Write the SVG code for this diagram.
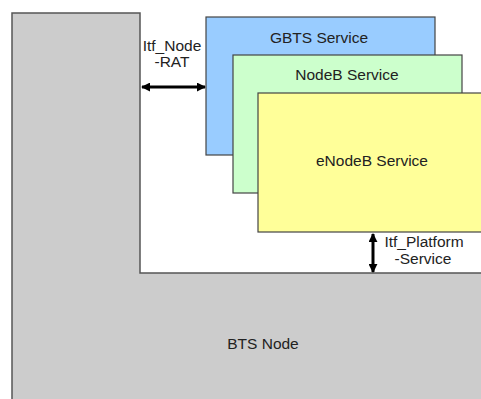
<svg xmlns="http://www.w3.org/2000/svg" width="481" height="399" viewBox="0 0 481 399">
<defs>
<style>
.t{font-family:"Liberation Sans",Arial,sans-serif;font-size:15.5px;fill:#222;text-anchor:middle}
.box{stroke:#444;stroke-width:1.2}
.conn{stroke:#000;stroke-width:3;fill:none}
</style>
<marker id="ah" viewBox="0 0 10 10" refX="9" refY="5" markerWidth="3" markerHeight="3" orient="auto-start-reverse" markerUnits="strokeWidth">
<path d="M0,0 L10,5 L0,10 z" fill="#000"/>
</marker>
</defs>
<rect width="481" height="399" fill="#fff"/>
<g id="bts-node">
<polygon points="12,13 140,13 140,273 495,273 495,410 12,410" fill="#cccccc" stroke="#555" stroke-width="1.5"/>
<text class="t" x="263" y="349">BTS Node</text>
</g>
<g id="gbts-service">
<rect class="box" x="206" y="17" width="229" height="138" fill="#99ccff"/>
<text class="t" x="319" y="43">GBTS Service</text>
</g>
<g id="nodeb-service">
<rect class="box" x="233" y="55" width="229" height="138" fill="#ccffcc"/>
<text class="t" x="347" y="80">NodeB Service</text>
</g>
<g id="enodeb-service">
<rect class="box" x="258" y="93" width="240" height="139" fill="#ffff99"/>
<text class="t" x="372" y="166">eNodeB Service</text>
</g>
<g id="connectors">
<line class="conn" x1="142" y1="87" x2="205" y2="87" marker-start="url(#ah)" marker-end="url(#ah)"/>
<line class="conn" x1="373" y1="234" x2="373" y2="272" marker-start="url(#ah)" marker-end="url(#ah)"/>
<text class="t" x="172" y="51">Itf_Node</text>
<text class="t" x="172" y="67">-RAT</text>
<text class="t" x="424" y="247">Itf_Platform</text>
<text class="t" x="423" y="264">-Service</text>
</g>
</svg>
